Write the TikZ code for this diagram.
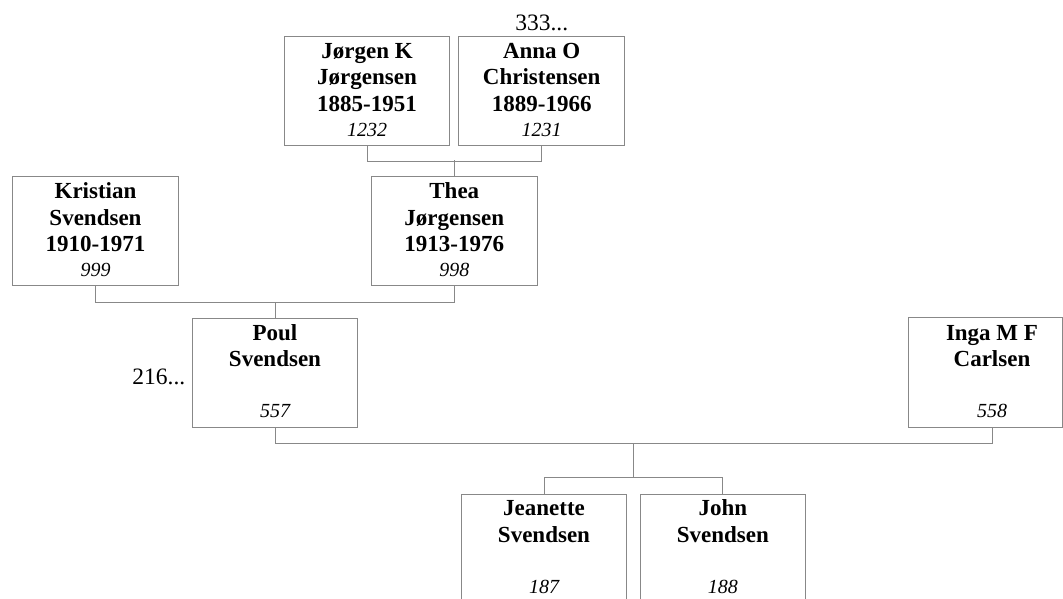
\documentclass[tikz,border=0pt]{standalone}
\usepackage{fontspec}
\setmainfont{Liberation Serif}
\usetikzlibrary{calc}
\definecolor{linegray}{RGB}{136,136,136}
\newcommand{\namefont}{\fontsize{23}{26.5}\selectfont\bfseries}
\newcommand{\numfont}{\fontsize{20}{24}\selectfont\itshape}
\newcommand{\plainfont}{\fontsize{23.5}{27}\selectfont}
\tikzset{
  person/.style={draw=linegray, line width=1pt, minimum width=165.5pt, minimum height=109pt, inner sep=0pt},
  names/.style={anchor=north, inner sep=0pt, align=center, font=\namefont},
  idnum/.style={anchor=base, inner sep=0pt, font=\numfont},
  conn/.style={draw=linegray, line width=1pt},
  more/.style={inner sep=0pt, font=\plainfont},
}
\newcommand{\person}[5]{%
  \node[person] (#1) at (#2,#3) {};
  \node[names] (#1-t) at ($(#1.north)+(0,5)$) {\rule{0pt}{17pt}#4};
  \node[idnum] (#1-n) at ($(#1.north)+(0,100)$) {#5};
}
\begin{document}
\begin{tikzpicture}[x=1pt,y=-1pt]
\useasboundingbox (0,0) rectangle (1063,598);
% generation 1
\person{jorgen}{367}{91}{Jørgen K\\Jørgensen\\1885-1951}{1232}
\person{anna}{541.7}{91}{Anna O\\Christensen\\1889-1966}{1231}
% generation 2
\person{kristian}{95.5}{231.3}{Kristian\\Svendsen\\1910-1971}{999}
\person{thea}{454.3}{231.3}{Thea\\Jørgensen\\1913-1976}{998}
% generation 3
\person{poul}{275}{372.8}{Poul\\Svendsen}{557}
\node[person, draw=none] (inga) at (992,372.8) {};
\draw[conn] (inga.north west) -- (inga.south west) -- (1062.4,0 |- inga.south) -- (1062.4,0 |- inga.north) -- cycle;
\node[names] (inga-t) at ($(inga.north)+(0,5)$) {\rule{0pt}{17pt}Inga M F\\Carlsen};
\node[idnum] (inga-n) at ($(inga.north)+(0,100)$) {558};
% generation 4
\person{jeanette}{544}{548.5}{Jeanette\\Svendsen}{187}
\person{john}{722.8}{548.5}{John\\Svendsen}{188}
% extra labels
\node[more, anchor=base] (more1) at (541.7,30) {333...};
\node[more, anchor=base east] (more2) at (185.5,384) {216...};
% connectors
\draw[conn] (jorgen.south) -- ++(0,15.5) -| (anna.south);
\draw[conn] (thea.north) -- ++(0,-16);
\draw[conn] (kristian.south) -- ++(0,16) -| (thea.south);
\draw[conn] (poul.north) -- ++(0,-16);
\draw[conn] (poul.south) -- ++(0,16) -| (inga.south);
\coordinate (mid) at ($(poul.south)!0.5!(inga.south)+(0,16)$);
\coordinate (kids) at ($(jeanette.north)+(0,-16)$);
\draw[conn] (mid) -- (mid |- kids);
\draw[conn] (jeanette.north) -- (kids) -| (john.north);
\end{tikzpicture}
\end{document}
